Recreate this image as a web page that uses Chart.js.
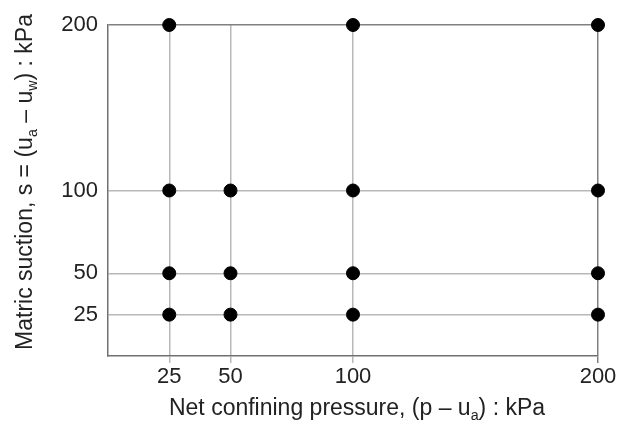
<!DOCTYPE html>
<html>
<head>
<meta charset="utf-8">
<script src="https://cdn.jsdelivr.net/npm/chart.js@4/dist/chart.umd.min.js"></script>
<style>
  html, body { margin: 0; padding: 0; background: #fff; }
  #wrap { width: 619px; height: 431px; }
</style>
</head>
<body>
<div id="wrap"><canvas id="chart"></canvas></div>
<script>
// tested stress states (net confining pressure, matric suction)
const xTicks = [25, 50, 100, 200];
const yTicks = [25, 50, 100, 200];
const testPressure = [25, 100, 200, 25, 50, 100, 200, 25, 50, 100, 200, 25, 50, 100, 200];
const testSuction = [200, 200, 200, 100, 100, 100, 100, 50, 50, 50, 50, 25, 25, 25, 25];

const xTitle = [{ t: 'Net confining pressure, (p \u2013 u' }, { t: 'a', sub: true }, { t: ') : kPa' }];
const yTitle = [{ t: 'Matric suction, s = (u' }, { t: 'a', sub: true }, { t: ' \u2013 u' }, { t: 'w', sub: true }, { t: ') : kPa' }];

const FONT = '"Liberation Sans", Arial, sans-serif';
const TEXT = '#222';

// draws a title with subscripts, centred on (cx, cy)
const drawRich = (ctx, parts, cx, cy, size, rotate) => {
    ctx.save();
    ctx.translate(cx, cy);
    if (rotate) ctx.rotate(-Math.PI / 2);
    ctx.fillStyle = TEXT;
    ctx.textBaseline = 'middle';
    let total = 0;
    parts.forEach(p => {
        ctx.font = (p.sub ? size * 0.62 : size) + 'px ' + FONT;
        p.w = ctx.measureText(p.t).width;
        total += p.w;
    });
    let x = -total / 2;
    parts.forEach(p => {
        ctx.font = (p.sub ? size * 0.62 : size) + 'px ' + FONT;
        ctx.fillText(p.t, x, p.sub ? size * 0.3 : 0);
        x += p.w;
    });
    ctx.restore();
};

const titlesPlugin = {
    id: 'titles',
    afterDraw(chart) {
        const ctx = chart.ctx;
        drawRich(ctx, xTitle, 357, 409, 23, false);
        drawRich(ctx, yTitle, 26, 182, 23, true);
    }
};

const gridColor = (ctx) => ctx.tick && ctx.tick.value === 200 ? '#808080' : '#b8b8b8';

new Chart(document.getElementById('chart'), {
    type: 'scatter',
    data: {
        datasets: [{
            data: testPressure.map((p, i) => ({ x: p, y: testSuction[i] })),
            backgroundColor: '#000',
            borderColor: '#000',
            pointRadius: 6.5,
            pointHoverRadius: 6.5,
            clip: false
        }]
    },
    options: {
        responsive: true,
        maintainAspectRatio: false,
        animation: false,
        events: [],
        layout: { padding: { left: 50, right: 21, top: 25, bottom: 30 } },
        plugins: { legend: { display: false }, tooltip: { enabled: false } },
        scales: {
            x: {
                type: 'linear',
                min: 0,
                max: 200,
                afterBuildTicks: (s) => { s.ticks = xTicks.map(v => ({ value: v })); },
                afterFit: (s) => { s.height = 45; },
                grid: { color: gridColor, lineWidth: 1.5, tickLength: 7 },
                border: { display: true, color: '#707070', width: 1.5 },
                ticks: { color: TEXT, padding: 1, font: { family: FONT, size: 22 } }
            },
            y: {
                type: 'linear',
                min: 0,
                max: 200,
                afterBuildTicks: (s) => { s.ticks = yTicks.map(v => ({ value: v })); },
                afterFit: (s) => { s.width = 58; },
                grid: { color: gridColor, lineWidth: 1.5, tickLength: 0 },
                border: { display: true, color: '#707070', width: 1.5 },
                ticks: { color: TEXT, padding: 10, font: { family: FONT, size: 22 } }
            }
        }
    },
    plugins: [titlesPlugin]
});
</script>
</body>
</html>
